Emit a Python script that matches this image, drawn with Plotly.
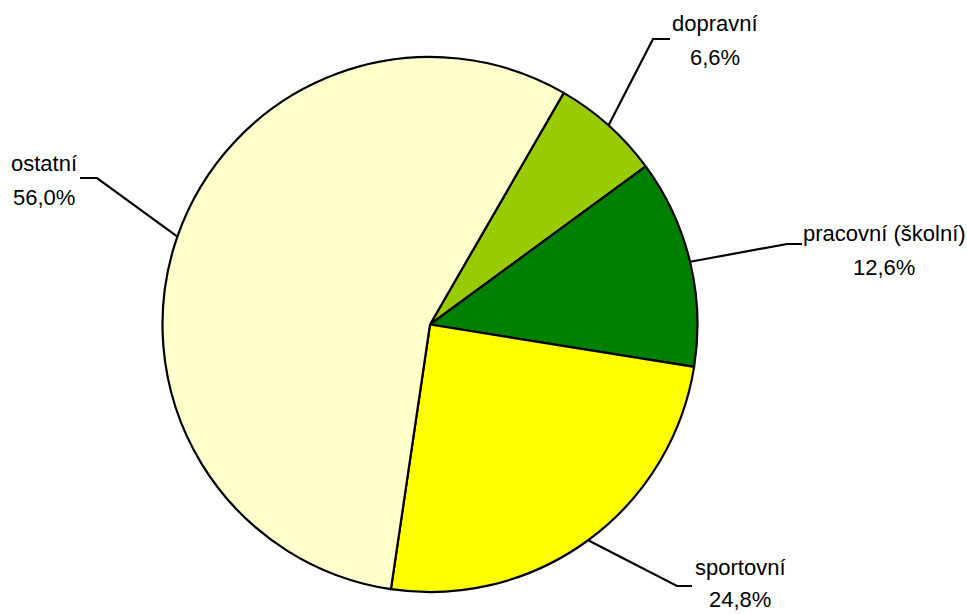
import math
import plotly.graph_objects as go

# ---- data ----
categories = ["dopravní", "pracovní (školní)", "sportovní", "ostatní"]
values = [6.6, 12.6, 24.8, 56.0]
value_labels = ["6,6%", "12,6%", "24,8%", "56,0%"]

# ---- style / layout ----
colors = ["#99CC00", "#008000", "#FFFF00", "#FFFFCC"]
W, H = 967, 614
CX, CY, R = 430, 324.5, 267.5
ROTATION = 30
FS = 22
FONT = dict(family="Liberation Sans, Arial", size=FS, color="#000000")
# elbow point, horizontal end, label x-center, baselines of the two lines (pixels)
label_layout = [
    dict(elbow=(653, 39), end=(670, 39), tx=715, base=(31, 65)),
    dict(elbow=(787, 244), end=(802, 244), tx=884, base=(241, 275)),
    dict(elbow=(677, 586), end=(692, 586), tx=740, base=(575, 607)),
    dict(elbow=(97, 178), end=(80, 178), tx=43.5, base=(171, 205)),
]


def px(x):
    return x / W


def py(y):
    return 1 - y / H


fig = go.Figure()
fig.add_trace(go.Pie(
    labels=categories,
    values=values,
    sort=False,
    direction="clockwise",
    rotation=ROTATION,
    marker=dict(colors=colors, line=dict(color="#000000", width=2.2)),
    textinfo="none",
    hoverinfo="label+percent",
    showlegend=False,
    domain=dict(x=[px(CX - 300), px(CX + 300)], y=[py(CY + R), py(CY - R)]),
))

total = sum(values)
cum = 0.0
shapes = []
annotations = []
for cat, v, vl, lay in zip(categories, values, value_labels, label_layout):
    mid = ROTATION + (cum + v / 2) / total * 360
    cum += v
    a = math.radians(mid)
    sx = CX + R * math.sin(a)
    sy = CY - R * math.cos(a)
    ex, ey = lay["elbow"]
    hx, hy = lay["end"]
    path = f"M {px(sx)} {py(sy)} L {px(ex)} {py(ey)} L {px(hx)} {py(hy)}"
    shapes.append(dict(type="path", xref="paper", yref="paper", path=path,
                       line=dict(color="#000000", width=2.2)))
    for txt, b in zip((cat, vl), lay["base"]):
        annotations.append(dict(x=px(lay["tx"]), y=py(b - 0.33 * FS), xref="paper", yref="paper",
                                text=txt, showarrow=False,
                                xanchor="center", yanchor="middle", align="center",
                                font=FONT))

fig.update_layout(
    width=W, height=H,
    margin=dict(l=0, r=0, t=0, b=0),
    paper_bgcolor="#FFFFFF",
    plot_bgcolor="#FFFFFF",
    shapes=shapes,
    annotations=annotations,
)

fig.write_html("out.html", config={"displayModeBar": False},
               post_script="document.body.style.margin='0px';")
